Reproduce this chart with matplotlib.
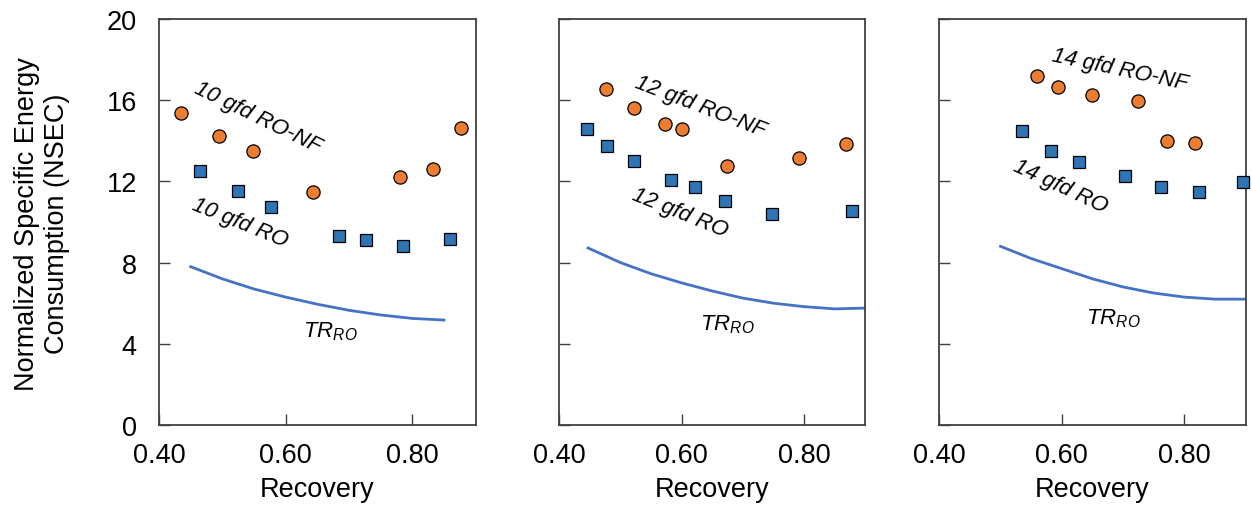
import matplotlib
matplotlib.use('Agg')
import matplotlib.pyplot as plt
from matplotlib.ticker import FormatStrFormatter

plt.rcParams['font.family'] = ['Liberation Sans', 'DejaVu Sans']
plt.rcParams['mathtext.fontset'] = 'custom'
plt.rcParams['mathtext.rm'] = 'Liberation Sans:italic'
plt.rcParams['mathtext.it'] = 'Liberation Sans:italic'

# flux levels (gfd)
flux = ['10', '12', '14']

# RO-NF (orange circles)
ronf_x = [[0.434, 0.495, 0.548, 0.643, 0.781, 0.832, 0.877],
          [0.477, 0.522, 0.573, 0.601, 0.674, 0.792, 0.868],
          [0.560, 0.593, 0.649, 0.725, 0.772, 0.817]]
ronf_y = [[15.35, 14.25, 13.5, 11.5, 12.23, 12.6, 14.65],
          [16.54, 15.62, 14.83, 14.58, 12.76, 13.14, 13.84],
          [17.18, 16.65, 16.26, 15.94, 13.97, 13.88]]

# RO (blue squares)
ro_x = [[0.464, 0.524, 0.577, 0.684, 0.727, 0.786, 0.860],
        [0.446, 0.478, 0.522, 0.583, 0.621, 0.670, 0.748, 0.879],
        [0.535, 0.583, 0.628, 0.703, 0.762, 0.824, 0.896]]
ro_y = [[12.53, 11.51, 10.72, 9.30, 9.10, 8.83, 9.16],
        [14.57, 13.73, 13.0, 12.08, 11.71, 11.05, 10.39, 10.54],
        [14.5, 13.51, 12.94, 12.28, 11.71, 11.46, 11.97]]

# thermodynamic restriction TR_RO (line)
tr_x = [[0.45, 0.50, 0.55, 0.60, 0.65, 0.70, 0.75, 0.80, 0.85],
        [0.447, 0.50, 0.55, 0.60, 0.65, 0.70, 0.75, 0.80, 0.85, 0.90],
        [0.50, 0.55, 0.60, 0.65, 0.70, 0.75, 0.80, 0.85, 0.90]]
tr_y = [[7.8, 7.2, 6.7, 6.3, 5.95, 5.65, 5.42, 5.25, 5.17],
        [8.72, 8.0, 7.45, 7.0, 6.6, 6.25, 6.0, 5.83, 5.72, 5.76],
        [8.8, 8.2, 7.7, 7.2, 6.8, 6.5, 6.3, 6.2, 6.2]]

x_ticks = [0.40, 0.60, 0.80]
y_ticks = [0, 4, 8, 12, 16, 20]

# label placement (x, y, rotation) per panel
nf_pos = [(0.556, 15.2, -26), (0.630, 15.73, -21), (0.694, 17.54, -12)]
ro_pos = [(0.528, 10.0, -22), (0.597, 10.49, -22), (0.597, 11.79, -25)]
tr_pos = [(0.67, 4.63), (0.674, 4.98), (0.684, 5.30)]

W, H = 1252, 510
fig = plt.figure(figsize=(W / 100, H / 100), dpi=100)
lefts = [159, 559.3, 939.3]
widths = [316.7, 306, 306.4]
top, bottom = 20, 426

frame_c = '#404040'
big = 19.5
small = 16
for i in range(3):
    ax = fig.add_axes([lefts[i] / W, 1 - bottom / H, widths[i] / W, (bottom - top) / H])
    ax.plot(tr_x[i], tr_y[i], color='#4472C4', lw=2, zorder=2)
    ax.plot(ro_x[i], ro_y[i], ls='none', marker='s', ms=9, mfc='#2E75B6',
            mec='black', mew=0.9, clip_on=False, zorder=3)
    ax.plot(ronf_x[i], ronf_y[i], ls='none', marker='o', ms=9.5, mfc='#ED7D31',
            mec='black', mew=0.9, clip_on=False, zorder=3)

    ax.set_xlim(0.40, 0.90)
    ax.set_ylim(0, 20)
    ax.set_xticks(x_ticks)
    ax.set_yticks(y_ticks)
    ax.xaxis.set_major_formatter(FormatStrFormatter('%.2f'))
    ax.tick_params(direction='in', length=8, width=1, color=frame_c,
                   labelsize=big, pad=16, top=False, right=False)
    ax.tick_params(axis='x', pad=12)
    if i > 0:
        ax.tick_params(axis='y', labelleft=False)
    for s in ax.spines.values():
        s.set_color(frame_c)
        s.set_linewidth(1.3)
    ax.set_xlabel('Recovery', fontsize=big, labelpad=6)

    x, y, r = nf_pos[i]
    ax.text(x, y, flux[i] + ' gfd RO-NF', rotation=r, rotation_mode='anchor',
            ha='center', va='center', fontsize=small, style='italic')
    x, y, r = ro_pos[i]
    ax.text(x, y, flux[i] + ' gfd RO', rotation=r, rotation_mode='anchor',
            ha='center', va='center', fontsize=small, style='italic')
    x, y = tr_pos[i]
    ax.text(x, y, r'$\mathrm{TR}_{\mathrm{RO}}$', ha='center', va='center',
            fontsize=small)

fig.text(42 / W, 1 - 224 / H, 'Normalized Specific Energy\nConsumption (NSEC)',
         rotation=90, ha='center', va='center', fontsize=big, linespacing=1.2)

fig.savefig('out.png', dpi=100)
